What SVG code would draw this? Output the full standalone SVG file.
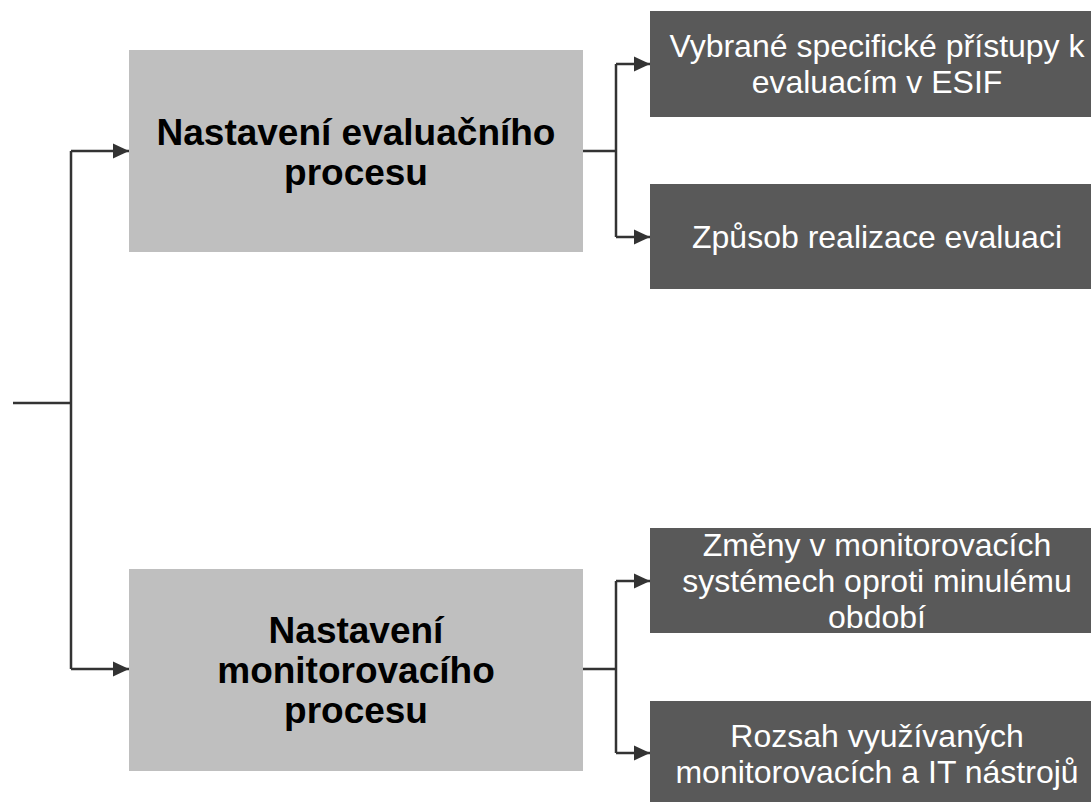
<svg xmlns="http://www.w3.org/2000/svg" width="1091" height="802" viewBox="0 0 1091 802">
<style>
.main{fill:#bfbfbf}
.sub{fill:#595959}
.mt{font-family:"Liberation Sans",Arial,sans-serif;font-weight:bold;font-size:37px;fill:#000;text-anchor:middle}
.st{font-family:"Liberation Sans",Arial,sans-serif;font-size:32px;fill:#fff;text-anchor:middle}
.c{fill:none;stroke:#333;stroke-width:2.5}
</style>
<defs>
<marker id="arr" markerUnits="userSpaceOnUse" markerWidth="16" markerHeight="16" refX="16" refY="8" orient="auto" viewBox="0 0 16 16">
<path d="M0,0.5 L16,8 L0,15.5 z" fill="#333"/>
</marker>
</defs>
<rect width="1091" height="802" fill="#fff"/>
<g id="n1">
<rect class="main" x="129" y="50" width="454" height="202"/>
<text class="mt" x="356" y="145">Nastavení evaluačního</text>
<text class="mt" x="356" y="185">procesu</text>
</g>
<g id="n2">
<rect class="main" x="129" y="569" width="454" height="202"/>
<text class="mt" x="356" y="643">Nastavení</text>
<text class="mt" x="356" y="683">monitorovacího</text>
<text class="mt" x="356" y="723">procesu</text>
</g>
<g id="n3">
<rect class="sub" x="650" y="11" width="454" height="106"/>
<text class="st" x="877" y="57">Vybrané specifické přístupy k</text>
<text class="st" x="877" y="93">evaluacím v ESIF</text>
</g>
<g id="n4">
<rect class="sub" x="650" y="184" width="454" height="105"/>
<text class="st" x="877" y="248">Způsob realizace evaluaci</text>
</g>
<g id="n5">
<rect class="sub" x="650" y="528" width="454" height="105"/>
<text class="st" x="877" y="556">Změny v monitorovacích</text>
<text class="st" x="877" y="592">systémech oproti minulému</text>
<text class="st" x="877" y="628">období</text>
</g>
<g id="n6">
<rect class="sub" x="650" y="701" width="454" height="105"/>
<text class="st" x="877" y="747">Rozsah využívaných</text>
<text class="st" x="877" y="783">monitorovacích a IT nástrojů</text>
</g>
<g id="connectors">
<path class="c" d="M13,403 H71"/>
<path class="c" d="M71,151 V669"/>
<path class="c" d="M71,151 H129" marker-end="url(#arr)"/>
<path class="c" d="M71,669 H129" marker-end="url(#arr)"/>
<path class="c" d="M583,151 H616"/>
<path class="c" d="M616,64 V237"/>
<path class="c" d="M616,64 H650" marker-end="url(#arr)"/>
<path class="c" d="M616,237 H650" marker-end="url(#arr)"/>
<path class="c" d="M583,669 H616"/>
<path class="c" d="M616,581 V753"/>
<path class="c" d="M616,581 H650" marker-end="url(#arr)"/>
<path class="c" d="M616,753 H650" marker-end="url(#arr)"/>
</g>
</svg>
